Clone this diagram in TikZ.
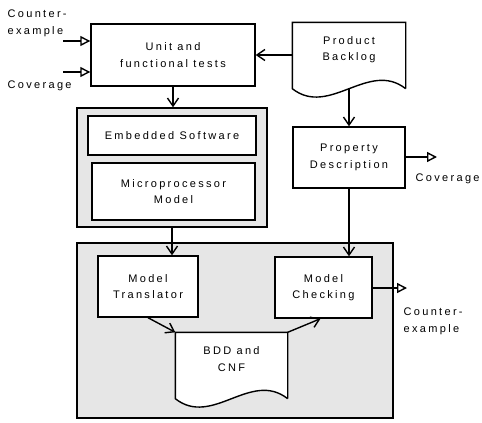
\documentclass[tikz,border=0pt]{standalone}
\usepackage{fontspec}
\setmainfont[LetterSpace=21]{Liberation Sans}
\usetikzlibrary{arrows.meta}
\definecolor{grpG}{RGB}{230,230,230}

\begin{document}
\begin{tikzpicture}[x=1pt,y=-1pt,line width=1.4pt,
  >={Straight Barb[length=8pt,width=11pt]},
  open/.style={-{Triangle[open,length=10pt,width=10pt]}},
  txt/.style={font=\fontsize{11}{16.5}\selectfont,align=center},
  blk/.style={txt,draw,fill=white,inner sep=0pt},
  grp/.style={draw,fill=grpG,inner sep=0pt},
  lbl/.style={font=\fontsize{11}{17}\selectfont,align=left,anchor=west,inner sep=0pt}]
\useasboundingbox (0,0) rectangle (482,423);
% grey groups first
\node[grp,minimum width=190,minimum height=119] (emb) at (172,167.5) {};
\node[grp,minimum width=316,minimum height=175] (chk) at (235,330.5) {};
% boxes
\node[blk,minimum width=164,minimum height=62] (unit) at (173,55) {Unit and\\functional tests};
\node[blk,minimum width=112,minimum height=61] (property) at (349,157.5) {Property\\Description};
\node[blk,minimum width=168,minimum height=39] (embsw) at (172,135.5) {Embedded Software};
\node[blk,minimum width=163,minimum height=57] (micro) at (173.5,191.5) {Microprocessor\\Model};
\node[blk,minimum width=100,minimum height=61] (translator) at (148,286.5) {Model\\Translator};
\node[blk,minimum width=97,minimum height=61] (checking) at (323.5,287.5) {Model\\Checking};
% documents: outline with wavy bottom, then the text
\node[inner sep=0pt,minimum width=112,minimum height=53] (backlogbox) at (349,49.5) {};
\draw[fill=white] ([yshift=-12pt]backlogbox.south east) -- (backlogbox.north east) -- (backlogbox.north west)
  -- ([yshift=-12pt]backlogbox.south west) .. controls +(37,29) and +(-37,-29) .. ([yshift=-12pt]backlogbox.south east);
\node[txt,inner sep=0pt] (backlog) at (backlogbox) {Product\\Backlog};
\node[inner sep=0pt,minimum width=111,minimum height=52] (bddbox) at (231.5,359) {};
\draw[fill=white] ([yshift=-13pt]bddbox.south east) -- (bddbox.north east) -- (bddbox.north west)
  -- ([yshift=-13pt]bddbox.south west) .. controls +(37,29) and +(-37,-29) .. ([yshift=-13pt]bddbox.south east);
\node[txt,inner sep=0pt] (bdd) at (bddbox) {BDD and\\CNF};
% flow
\draw[->] (backlogbox.west |- unit.east) -- (unit.east);
\draw[->] (unit.south) -- (unit.south |- emb.north);
\draw[->] ([yshift=-12pt]backlogbox.south) -- (property.north);
\draw[->] (emb.south) -- (emb.south |- translator.north);
\draw[->] (property.south) -- (property.south |- checking.north);
\draw[->] (translator.south) -- (bddbox.north west);
\draw[->] (bddbox.north east) -- ([xshift=-3pt]checking.south);
% inputs and outputs
\coordinate (cexin) at (63,41);
\coordinate (covin) at (63,72);
\coordinate (covout) at (437,157);
\coordinate (cexout) at (407,288);
\draw[open] (cexin) -- (cexin -| unit.west);
\draw[open] (covin) -- (covin -| unit.west);
\draw[open] (property.east |- covout) -- (covout);
\draw[open] (checking.east |- cexout) -- (cexout);
\node[lbl] (lcexin) at (7,23.5) {Counter-\\example};
\node[lbl] (lcovin) at (7,86) {Coverage};
\node[lbl] (lcovout) at (415,179) {Coverage};
\node[lbl] (lcexout) at (403,321.5) {Counter-\\example};
\end{tikzpicture}
\end{document}
